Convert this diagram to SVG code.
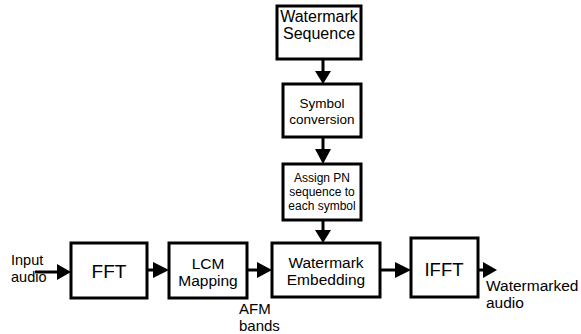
<svg xmlns="http://www.w3.org/2000/svg" width="581" height="334" viewBox="0 0 581 334">
  <style>
    .box { fill: #fff; stroke: #000; stroke-width: 3; }
    .wire { stroke: #000; stroke-width: 3; fill: none; }
    .head { fill: #000; }
    text { font-family: "Liberation Sans", Arial, sans-serif; fill: #000; }
    .c { text-anchor: middle; dominant-baseline: central; }
  </style>
  <rect width="581" height="334" fill="#fff"/>

  <g id="connectors">
    <!-- vertical chain -->
    <line class="wire" x1="323" y1="59" x2="323" y2="72"/>
    <polygon class="head" points="315,71 331,71 323,84"/>
    <line class="wire" x1="323" y1="137" x2="323" y2="150"/>
    <polygon class="head" points="315,149 331,149 323,164"/>
    <line class="wire" x1="323" y1="220" x2="323" y2="231"/>
    <polygon class="head" points="315,230 331,230 323,243"/>
    <!-- horizontal chain -->
    <line class="wire" x1="35" y1="272" x2="58" y2="272"/>
    <polygon class="head" points="57,264 57,280 71,272"/>
    <line class="wire" x1="147" y1="270" x2="154" y2="270"/>
    <polygon class="head" points="153,262 153,278 169,270"/>
    <line class="wire" x1="247" y1="270" x2="258" y2="270"/>
    <polygon class="head" points="257,262 257,278 272,270"/>
    <line class="wire" x1="380" y1="270" x2="396" y2="270"/>
    <polygon class="head" points="395,262 395,278 411,270"/>
    <line class="wire" x1="478" y1="270" x2="484" y2="270"/>
    <polygon class="head" points="483,262 483,278 497,270"/>
  </g>

  <g id="watermark-sequence">
    <rect class="box" x="277" y="6" width="84" height="53"/>
    <text class="c" x="319" y="16" font-size="16">Watermark</text>
    <text class="c" x="319" y="33" font-size="16">Sequence</text>
  </g>

  <g id="symbol-conversion">
    <rect class="box" x="283" y="84" width="78" height="53"/>
    <text class="c" x="322" y="103" font-size="13.5">Symbol</text>
    <text class="c" x="322" y="119" font-size="13.5">conversion</text>
  </g>

  <g id="assign-pn">
    <rect class="box" x="283" y="164" width="78" height="56"/>
    <text class="c" x="322" y="178" font-size="12">Assign PN</text>
    <text class="c" x="322" y="192" font-size="12">sequence to</text>
    <text class="c" x="322" y="206" font-size="12">each symbol</text>
  </g>

  <g id="fft">
    <rect class="box" x="71" y="243" width="76" height="55"/>
    <text class="c" x="109" y="271" font-size="19">FFT</text>
  </g>

  <g id="lcm-mapping">
    <rect class="box" x="169" y="243" width="78" height="55"/>
    <text class="c" x="208" y="263" font-size="15.5">LCM</text>
    <text class="c" x="208" y="280" font-size="15.5">Mapping</text>
  </g>

  <g id="watermark-embedding">
    <rect class="box" x="272" y="243" width="108" height="54"/>
    <text class="c" x="326" y="262" font-size="15.5">Watermark</text>
    <text class="c" x="326" y="279" font-size="15.5">Embedding</text>
  </g>

  <g id="ifft">
    <rect class="box" x="411" y="238" width="67" height="59"/>
    <text class="c" x="444" y="269" font-size="18.5">IFFT</text>
  </g>

  <g id="labels">
    <text x="11" y="265" font-size="14.5">Input</text>
    <text x="11" y="282" font-size="14.5">audio</text>
    <text x="239" y="314" font-size="15">AFM</text>
    <text x="239" y="331" font-size="15">bands</text>
    <text x="486" y="291" font-size="15.5">Watermarked</text>
    <text x="486" y="308" font-size="15.5">audio</text>
  </g>
</svg>
